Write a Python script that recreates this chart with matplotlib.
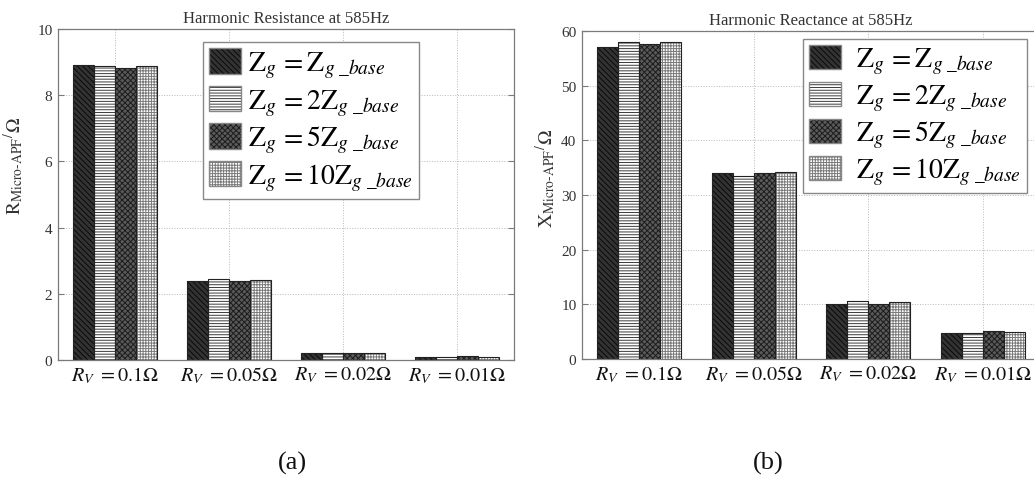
import matplotlib
matplotlib.use("Agg")
import matplotlib.pyplot as plt
from matplotlib.patches import Patch
from matplotlib.legend_handler import HandlerTuple

plt.rcParams["font.family"] = ["Liberation Serif", "DejaVu Serif"]
plt.rcParams["mathtext.fontset"] = "stix"
plt.rcParams["hatch.linewidth"] = 0.7

# Virtual resistance cases on the x axis
categories = [r"$R_V\ = 0.1\Omega$", r"$R_V\ = 0.05\Omega$",
              r"$R_V\ = 0.02\Omega$", r"$R_V\ = 0.01\Omega$"]

# Grid impedance cases (legend)
series_labels = [r"$\mathrm{Z}_g\,= \mathrm{Z}_{g\ \_base}$",
                 r"$\mathrm{Z}_g\,= 2\mathrm{Z}_{g\ \_base}$",
                 r"$\mathrm{Z}_g\,= 5\mathrm{Z}_{g\ \_base}$",
                 r"$\mathrm{Z}_g\,= 10\mathrm{Z}_{g\ \_base}$"]

# Harmonic resistance at 585 Hz (ohm), one list per grid impedance case
res_z1 = [8.90, 2.39, 0.20, 0.10]
res_z2 = [8.88, 2.44, 0.20, 0.10]
res_z5 = [8.82, 2.39, 0.20, 0.11]
res_z10 = [8.87, 2.41, 0.20, 0.10]

# Harmonic reactance at 585 Hz (ohm)
rea_z1 = [57.0, 34.0, 10.0, 4.80]
rea_z2 = [58.0, 33.5, 10.6, 4.80]
rea_z5 = [57.6, 34.0, 10.0, 5.05]
rea_z10 = [58.0, 34.2, 10.35, 4.87]

# Monochrome hatch styles for the four series
faces = ["#333333", "#ffffff", "#5a5a5a", "#ffffff"]
hatch_colors = ["#0a0a0a", "#3a3a3a", "#1c1c1c", "#7a7a7a"]
hatches = ["\\\\\\\\\\\\", "------", "xxxxxx", "++++++"]

TXT = "#333333"
SPINE = "#7a7a7a"


def draw_panel(ax, series, ymax, yticks, title, ylabel, ylabel_size,
               ylabel_xy, legend_fs, legend_anchor, text_pad, handle_h):
    x = list(range(1, len(categories) + 1))
    width = 0.183
    handles = []
    for i, vals in enumerate(series):
        pos = [xi + (i - 1.5) * width for xi in x]
        ax.bar(pos, vals, width, color=faces[i], hatch=hatches[i],
               edgecolor=hatch_colors[i], linewidth=0, zorder=2)
        ax.bar(pos, vals, width, fill=False, edgecolor="#222222",
               linewidth=0.8, zorder=3)
        h_fill = Patch(facecolor=faces[i], hatch=hatches[i],
                       edgecolor=hatch_colors[i], linewidth=0)
        h_edge = Patch(fill=False, edgecolor="#888888", linewidth=1.0)
        handles.append((h_fill, h_edge))

    ax.set_xlim(0.5, len(categories) + 0.5)
    ax.set_ylim(0, ymax)
    ax.set_xticks(x)
    ax.set_xticklabels(categories, fontsize=14.5, color="#111111")
    ax.set_yticks(yticks)
    ax.set_yticklabels([str(t) for t in yticks], fontsize=11, color=TXT)
    ax.tick_params(axis="both", direction="in", length=4, color=SPINE,
                   top=True, right=True)
    ax.tick_params(axis="x", pad=3, length=0)
    ax.tick_params(axis="y", pad=4)
    ax.grid(True, linestyle=":", color="#b8b8b8", linewidth=0.7)
    ax.set_axisbelow(True)
    for s in ax.spines.values():
        s.set_color(SPINE)
        s.set_linewidth(0.9)
    ax.set_title(title, fontsize=12, color=TXT, pad=5)
    ax.set_ylabel(ylabel, fontsize=ylabel_size, color=TXT)
    ax.yaxis.set_label_coords(*ylabel_xy)

    leg = ax.legend(handles, series_labels, loc="upper left",
                    bbox_to_anchor=legend_anchor,
                    bbox_transform=ax.figure.transFigure,
                    handler_map={tuple: HandlerTuple(ndivide=1, pad=0)},
                    fontsize=legend_fs, frameon=True, fancybox=False,
                    framealpha=1, edgecolor="#888888", borderpad=0.22,
                    handlelength=1.15, handleheight=handle_h,
                    handletextpad=text_pad, labelspacing=0.2,
                    borderaxespad=0)
    leg.get_frame().set_linewidth(1.0)
    return ax


fig = plt.figure(figsize=(10.34, 4.81), dpi=100)
W, H = 1034.0, 481.0

ax1 = fig.add_axes([58 / W, (H - 361) / H, 456 / W, 331 / H])
draw_panel(ax1, [res_z1, res_z2, res_z5, res_z10], 10, [0, 2, 4, 6, 8, 10],
           "Harmonic Resistance at 585Hz",
           r"$\mathrm{R}_{\mathrm{Micro\text{-}APF}}{}^{/}\Omega$", 14,
           (-0.07, 0.59), 20, (203 / W, 1 - 43 / H), 0.25, 1.05)

ax2 = fig.add_axes([582 / W, (H - 360) / H, 458 / W, 328 / H])
draw_panel(ax2, [rea_z1, rea_z2, rea_z5, rea_z10], 60,
           [0, 10, 20, 30, 40, 50, 60],
           "Harmonic Reactance at 585Hz",
           r"$\mathrm{X}_{\mathrm{Micro\text{-}APF}}{}^{/}\Omega$", 14,
           (-0.052, 0.555), 20, (803 / W, 1 - 40 / H), 0.55, 0.95)

fig.text(292 / W, 1 - 463 / H, "(a)", fontsize=19, ha="center", va="center",
         color="#111111")
fig.text(768 / W, 1 - 463 / H, "(b)", fontsize=19, ha="center", va="center",
         color="#111111")

fig.savefig("out.png", dpi=100)
